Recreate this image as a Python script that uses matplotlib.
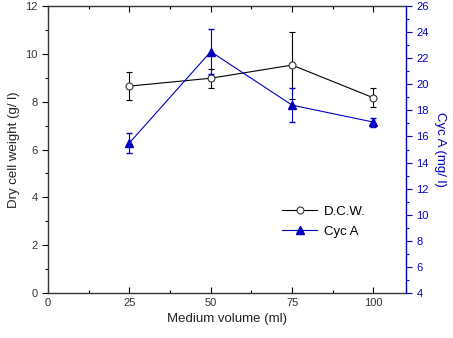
import matplotlib
matplotlib.use("Agg")
import matplotlib.pyplot as plt
from matplotlib.ticker import MultipleLocator
from matplotlib.lines import Line2D

plt.rcParams['font.family'] = ['Liberation Sans', 'DejaVu Sans']

volume = [25, 50, 75, 100]
dcw = [8.65, 8.98, 9.53, 8.16]
dcw_err = [0.58, 0.40, 1.40, 0.40]
cyc = [15.5, 22.5, 18.4, 17.1]
cyc_err = [0.75, 1.7, 1.3, 0.35]

blue = '#0000c0'
fig = plt.figure(figsize=(4.53, 3.38), dpi=100)
ax = fig.add_axes([48/453, 1-293/338, (406-48)/453, (293-6)/338])
ax2 = ax.twinx()

ax.errorbar(volume, dcw, yerr=dcw_err, color='black', lw=0.8, marker='o', ms=5,
            mfc='white', mec='#333333', mew=0.8, capsize=2.5, elinewidth=0.8, zorder=3)
ax2.errorbar(volume, cyc, yerr=cyc_err, color=blue, lw=0.8, marker='^', ms=6,
             mfc=blue, mec=blue, capsize=2.5, elinewidth=0.8)

ax.set_xlim(0, 110)
ax.set_ylim(0, 12)
ax2.set_ylim(4, 26)
ax.xaxis.set_major_locator(MultipleLocator(25))
ax.xaxis.set_minor_locator(MultipleLocator(12.5))
ax.yaxis.set_major_locator(MultipleLocator(2))
ax.yaxis.set_minor_locator(MultipleLocator(1))
ax2.yaxis.set_major_locator(MultipleLocator(2))
ax2.yaxis.set_minor_locator(MultipleLocator(1))

ax.tick_params(which='both', direction='in', top=True, labelsize=8, labelcolor='#333333', width=0.8)
ax.tick_params(which='major', length=4)
ax.tick_params(which='minor', length=2)
ax.tick_params(axis='y', direction='out', which='both')
ax2.tick_params(which='both', direction='out', colors=blue, labelsize=8, width=0.8)
ax2.tick_params(which='major', length=4)
ax2.tick_params(which='minor', length=2)
for s in ['left', 'bottom', 'top']:
    ax.spines[s].set_color('#333333')
    ax.spines[s].set_linewidth(1.0)
ax2.spines['right'].set_color(blue)
ax2.spines['right'].set_linewidth(1.0)
ax.spines['right'].set_visible(False)
for s in ['left', 'bottom', 'top']:
    ax2.spines[s].set_visible(False)

ax.set_xlabel('Medium volume (ml)', fontsize=9.5, color='#222222')
ax.set_ylabel('Dry cell weight (g/ l)', fontsize=9.5, color='#222222')
ax2.set_ylabel('Cyc A (mg/ l)', fontsize=9.5, color=blue, rotation=270, labelpad=12)

handles = [
    Line2D([], [], color='black', lw=0.8, marker='o', ms=5, mfc='white', mec='#333333', mew=0.8),
    Line2D([], [], color=blue, lw=0.8, marker='^', ms=6, mfc=blue, mec=blue),
]
ax.legend(handles, ['D.C.W.', 'Cyc A'], loc='upper left', bbox_to_anchor=(0.62, 0.345),
          frameon=False, fontsize=9.5, handlelength=2.7, labelspacing=0.55, handletextpad=0.5)

fig.savefig('out.png', dpi=100)
